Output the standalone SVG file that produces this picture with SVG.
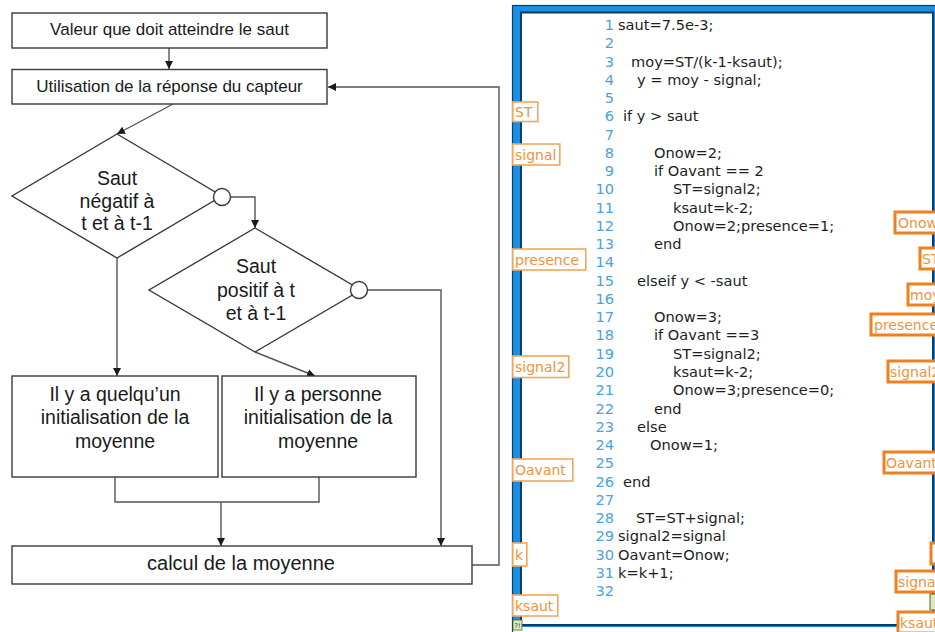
<svg xmlns="http://www.w3.org/2000/svg" width="935" height="632" viewBox="0 0 935 632">
<style>
.box{fill:#fff;stroke:#3a3a3a;stroke-width:1.4}
.ft{font-family:"Liberation Sans",Arial,sans-serif;fill:#1a1a1a;text-anchor:middle}
.f17{font-size:17px}
.f19{font-size:19.5px}
.con{fill:none;stroke:#555;stroke-width:1.4}
.code{font-family:"DejaVu Sans",Verdana,sans-serif;font-size:14.6px;fill:#1e1e1e}
.ln{font-family:"DejaVu Sans",Verdana,sans-serif;font-size:14.6px;fill:#4aa3e0;text-anchor:end}
.lt{fill:#fff;stroke:#f5a55a;stroke-width:1.6}
.rt{fill:#fff;stroke:#f07f1e;stroke-width:3}
.lbl{font-family:"DejaVu Sans",Verdana,sans-serif;font-size:14px;fill:#ef9440}
</style>
<defs>
<marker id="ah" viewBox="0 0 10 10" refX="10" refY="5" markerWidth="8" markerHeight="8" markerUnits="userSpaceOnUse" orient="auto">
<path d="M0,0 L10,5 L0,10 z" fill="#1a1a1a"/>
</marker>
</defs>
<rect width="935" height="632" fill="#fff"/>

<!-- Flowchart connectors -->
<g id="connectors">
<path class="con" d="M169,48 V69" marker-end="url(#ah)"/>
<path class="con" d="M173,104 L117,134" marker-end="url(#ah)"/>
<path class="con" d="M230.5,197 H255 V228" marker-end="url(#ah)"/>
<path class="con" d="M117,258 V376" marker-end="url(#ah)"/>
<path class="con" d="M255,352 L315,376" marker-end="url(#ah)"/>
<path class="con" d="M367.5,290 H441 V546" marker-end="url(#ah)"/>
<path class="con" d="M115,477 V502 H319 V477"/>
<path class="con" d="M221,502 V546" marker-end="url(#ah)"/>
<path class="con" d="M472,565 H499 V87 H328" marker-end="url(#ah)"/>
</g>

<g id="n-valeur">
<rect class="box" x="12" y="13" width="315" height="35"/>
<text class="ft f17" x="169.5" y="35">Valeur que doit atteindre le saut</text>
</g>
<g id="n-utilisation">
<rect class="box" x="12" y="69.5" width="315" height="34.5"/>
<text class="ft f17" x="169.5" y="92">Utilisation de la réponse du capteur</text>
</g>
<g id="n-negatif">
<polygon class="box" points="117,134 222,196 117,258 12,196"/>
<circle class="box" cx="222" cy="197" r="8.5"/>
<text class="ft f19" x="117" y="185">Saut</text>
<text class="ft f19" x="117" y="207.5">négatif à</text>
<text class="ft f19" x="117" y="230">t et à t-1</text>
</g>
<g id="n-positif">
<polygon class="box" points="255,228 361,290 255,352 149,290"/>
<circle class="box" cx="359" cy="290" r="8.5"/>
<text class="ft f19" x="256" y="273">Saut</text>
<text class="ft f19" x="256" y="296.5">positif à t</text>
<text class="ft f19" x="256" y="320">et à t-1</text>
</g>
<g id="n-quelquun">
<rect class="box" x="12" y="376" width="206" height="101"/>
<text class="ft f19" x="115" y="400.5">Il y a quelqu’un</text>
<text class="ft f19" x="115" y="424">initialisation de la</text>
<text class="ft f19" x="115" y="447.5">moyenne</text>
</g>
<g id="n-personne">
<rect class="box" x="222" y="376" width="194" height="101"/>
<text class="ft f19" x="318" y="400.5">Il y a personne</text>
<text class="ft f19" x="318" y="424">initialisation de la</text>
<text class="ft f19" x="318" y="447.5">moyenne</text>
</g>
<g id="n-calcul">
<rect class="box" x="12" y="546" width="460" height="38"/>
<text class="ft" style="font-size:20px" x="241" y="569.5">calcul de la moyenne</text>
</g>

<!-- Code panel -->
<g id="code-panel">
<rect x="512" y="5" width="430" height="622" fill="#1a8fe3"/>
<rect x="512.5" y="5.5" width="430" height="640" fill="none" stroke="#0c3c68" stroke-width="1.2"/>
<rect x="521" y="12.5" width="412" height="612.5" fill="#fff" stroke="#0c3c68" stroke-width="2"/>
<rect x="513" y="620" width="9" height="10" fill="#dfe8b8" stroke="#4d6a2a" stroke-width="0.8"/>
<text x="517.5" y="628" font-family="DejaVu Sans,sans-serif" font-size="6.5" fill="#333" text-anchor="middle">?!</text>

<text class="ln" x="614" y="30">1</text><text class="code" x="618" y="30">saut=7.5e-3;</text>
<text class="ln" x="614" y="48.3">2</text>
<text class="ln" x="614" y="66.5">3</text><text class="code" x="631" y="66.5">moy=ST/(k-1-ksaut);</text>
<text class="ln" x="614" y="84.8">4</text><text class="code" x="637" y="84.8">y = moy - signal;</text>
<text class="ln" x="614" y="103">5</text>
<text class="ln" x="614" y="121.3">6</text><text class="code" x="623" y="121.3">if y &gt; saut</text>
<text class="ln" x="614" y="139.6">7</text>
<text class="ln" x="614" y="157.8">8</text><text class="code" x="654" y="157.8">Onow=2;</text>
<text class="ln" x="614" y="176.1">9</text><text class="code" x="654" y="176.1">if Oavant == 2</text>
<text class="ln" x="614" y="194.3">10</text><text class="code" x="673" y="194.3">ST=signal2;</text>
<text class="ln" x="614" y="212.6">11</text><text class="code" x="673" y="212.6">ksaut=k-2;</text>
<text class="ln" x="614" y="230.9">12</text><text class="code" x="673" y="230.9">Onow=2;presence=1;</text>
<text class="ln" x="614" y="249.1">13</text><text class="code" x="654" y="249.1">end</text>
<text class="ln" x="614" y="267.4">14</text>
<text class="ln" x="614" y="285.6">15</text><text class="code" x="637" y="285.6">elseif y &lt; -saut</text>
<text class="ln" x="614" y="303.9">16</text>
<text class="ln" x="614" y="322.2">17</text><text class="code" x="654" y="322.2">Onow=3;</text>
<text class="ln" x="614" y="340.4">18</text><text class="code" x="654" y="340.4">if Oavant ==3</text>
<text class="ln" x="614" y="358.7">19</text><text class="code" x="673" y="358.7">ST=signal2;</text>
<text class="ln" x="614" y="376.9">20</text><text class="code" x="673" y="376.9">ksaut=k-2;</text>
<text class="ln" x="614" y="395.2">21</text><text class="code" x="673" y="395.2">Onow=3;presence=0;</text>
<text class="ln" x="614" y="413.5">22</text><text class="code" x="654" y="413.5">end</text>
<text class="ln" x="614" y="431.7">23</text><text class="code" x="637" y="431.7">else</text>
<text class="ln" x="614" y="450">24</text><text class="code" x="650" y="450">Onow=1;</text>
<text class="ln" x="614" y="468.2">25</text>
<text class="ln" x="614" y="486.5">26</text><text class="code" x="623" y="486.5">end</text>
<text class="ln" x="614" y="504.8">27</text>
<text class="ln" x="614" y="523">28</text><text class="code" x="636" y="523">ST=ST+signal;</text>
<text class="ln" x="614" y="541.3">29</text><text class="code" x="618" y="541.3">signal2=signal</text>
<text class="ln" x="614" y="559.5">30</text><text class="code" x="618" y="559.5">Oavant=Onow;</text>
<text class="ln" x="614" y="577.8">31</text><text class="code" x="618" y="577.8">k=k+1;</text>
<text class="ln" x="614" y="596.1">32</text>
</g>

<!-- Input terminals (left) -->
<g id="in-ST"><rect class="lt" x="512.8" y="102" width="25" height="19.5"/><text class="lbl" x="515" y="117">ST</text></g>
<g id="in-signal"><rect class="lt" x="512.8" y="144" width="47" height="21"/><text class="lbl" x="515" y="159.5">signal</text></g>
<g id="in-presence"><rect class="lt" x="512.8" y="249" width="73" height="21"/><text class="lbl" x="515" y="264.5">presence</text></g>
<g id="in-signal2"><rect class="lt" x="512.8" y="356" width="56" height="21.5"/><text class="lbl" x="515" y="371.5">signal2</text></g>
<g id="in-Oavant"><rect class="lt" x="512.8" y="459" width="60" height="22"/><text class="lbl" x="515" y="475">Oavant</text></g>
<g id="in-k"><rect class="lt" x="512.8" y="543" width="14" height="23"/><text class="lbl" x="515" y="559.5">k</text></g>
<g id="in-ksaut"><rect class="lt" x="512.8" y="595" width="45" height="21"/><text class="lbl" x="515" y="610.5">ksaut</text></g>

<!-- Output terminals (right) -->
<g id="out-Onow"><rect class="rt" x="895" y="212" width="60" height="21"/><text class="lbl" x="898" y="227.5">Onow</text></g>
<g id="out-ST"><rect class="rt" x="920" y="248" width="40" height="21"/><text class="lbl" x="922" y="263.5">ST</text></g>
<g id="out-moy"><rect class="rt" x="908" y="284" width="50" height="21"/><text class="lbl" x="910" y="299.5">moy</text></g>
<g id="out-presence"><rect class="rt" x="871" y="314" width="90" height="21"/><text class="lbl" x="874" y="329.5">presence</text></g>
<g id="out-signal2"><rect class="rt" x="888" y="361" width="70" height="21"/><text class="lbl" x="890" y="376.5">signal2</text></g>
<g id="out-Oavant"><rect class="rt" x="884" y="452" width="70" height="21"/><text class="lbl" x="886" y="467.5">Oavant</text></g>
<g id="out-k"><rect class="rt" x="931" y="543" width="30" height="21"/></g>
<g id="out-signal"><rect class="rt" x="896" y="571" width="60" height="21"/><text class="lbl" x="898" y="586.5">signal</text></g>
<rect x="930" y="594" width="10" height="16" fill="#dfe8b8" stroke="#4d6a2a" stroke-width="1"/>
<g id="out-ksaut"><rect class="rt" x="898" y="612" width="60" height="21"/><text class="lbl" x="900" y="627.5">ksaut</text></g>
</svg>
